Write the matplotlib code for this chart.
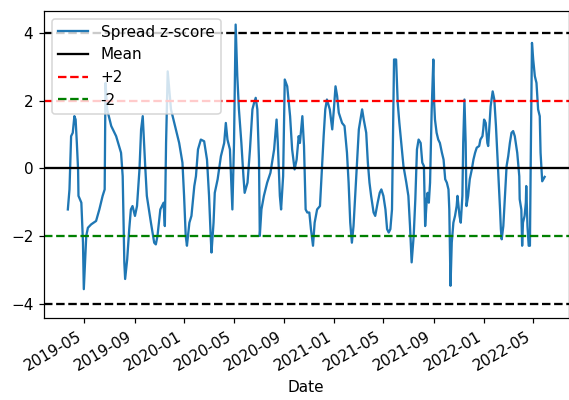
import matplotlib
matplotlib.use("Agg")
import matplotlib.pyplot as plt
import matplotlib.dates as mdates
import pandas as pd

# Observation dates, as day offsets from 2019-05-01
day_offsets = [
    -40, -36, -32, -28, -24, -21, -18, -15, -14, -7,
    -3, -1, 2, 5, 9, 17, 29, 37, 45, 50,
    52, 56, 66, 78, 90, 94, 98, 100, 105, 110,
    114, 118, 124, 129, 135, 139, 143, 145, 149, 153,
    163, 171, 175, 179, 186, 194, 197, 200, 204, 212,
    220, 232,
    240, 244, 248, 251, 257, 262, 269, 273, 278, 285,
    293, 300, 305, 309, 311, 316, 319, 326, 334, 338,
    342, 346, 350, 356, 362, 366, 370, 374, 378, 384,
    389, 392, 399, 405, 411, 415, 419, 423, 427, 429,
    433, 439, 447, 455, 464, 470, 473, 478, 481, 486,
    490, 496, 503, 508, 514, 519, 524, 527, 533, 537,
    541, 545,
    550, 554, 559, 563, 569, 576, 581, 585, 589, 593,
    600, 606, 610, 614, 618, 622, 630, 636, 642, 646,
    650, 654, 658, 662, 667, 671, 675, 679, 683, 689,
    693, 697, 701, 707, 711, 717, 722, 726, 731, 736,
    740, 744, 748, 752, 754, 757, 762, 766, 770, 776,
    780, 787, 792, 796, 800, 805, 809, 813, 817, 822,
    826, 830, 833, 837, 839, 842, 845, 849, 853,
    855, 857, 861, 865, 869, 874, 878, 882, 886, 890,
    892, 895, 898, 902, 906, 910, 912, 917, 920, 924,
    926, 929, 932, 934, 938, 942, 947, 951, 955, 959,
    965, 968, 973, 975, 977, 981, 985, 987, 990, 993,
    998, 1002, 1006, 1010, 1013, 1016, 1018, 1020, 1024, 1028,
    1032, 1036, 1040, 1044, 1048, 1052, 1058, 1063, 1064, 1068,
    1070, 1072, 1076, 1079, 1080, 1083, 1086, 1089, 1091, 1094,
    1097, 1101, 1105, 1109, 1113, 1115, 1119, 1125,
]

zscore = [
    -1.21, -0.62, 0.95, 1.05, 1.54, 1.44, 0.75, -0.03, -0.81, -1.01,
    -2.19, -3.56, -2.77, -1.99, -1.75, -1.65, -1.55, -1.21, -0.81, -0.62,
    2.52, 1.74, 1.25, 0.95, 0.46, -0.23, -2.77, -3.26, -2.68, -1.79,
    -1.21, -1.11, -1.40, -1.11, -0.03, 1.15, 1.54, 1.05, 0.07, -0.81,
    -1.60, -2.19, -2.24, -1.99, -1.21, -1.01, -1.70, 0.75, 2.86, 1.74,
    1.34, 0.75,
    0.17, -0.81, -1.99, -2.28, -1.60, -1.40, -0.52, -0.23, 0.56, 0.85,
    0.80, 0.26, -0.81, -1.99, -2.48, -1.60, -0.72, -0.32, 0.36, 0.56,
    0.75, 1.34, 0.85, 0.56, -1.21, 0.75, 4.24, 2.72, 1.74, 0.75,
    -0.23, -0.72, -0.42, 0.56, 1.74, 1.93, 2.08, 1.74, 0.26, -1.99,
    -1.21, -0.81, -0.42, -0.13, 0.56, 1.44, 0.75, -0.81, -1.21, -0.23,
    2.62, 2.42, 1.54, 0.56, -0.03, 0.26, 0.95, 0.75, 1.54, 0.66,
    -1.21, -1.30,
    -1.30, -1.79, -2.28, -1.60, -1.21, -1.11, 0.07, 0.95, 1.74, 2.03,
    1.74, 1.15, 1.74, 2.42, 2.13, 1.64, 1.34, 1.25, 0.46, -0.42,
    -1.60, -2.19, -1.70, -0.81, 0.26, 1.15, 1.44, 1.74, 1.44, 1.05,
    0.17, -0.42, -0.81, -1.30, -1.40, -1.01, -0.72, -0.62, -0.81, -1.21,
    -1.79, -1.89, -1.79, -1.21, 0.56, 3.21, 3.21, 1.93, 1.34, 0.56,
    0.07, -0.42, -0.81, -1.70, -2.77, -1.99, -0.91, 0.56, 0.85, 0.75,
    0.17, 0.07, -1.70, -0.91, -0.72, -1.01, -0.42, 1.74, 3.21,
    1.93, 1.44, 1.05, 0.85, 0.75, 0.46, 0.26, -0.32, -0.42, -0.62,
    -1.21, -3.46, -2.19, -1.60, -1.40, -1.11, -0.81, -1.40, -1.60, -0.81,
    0.75, 2.03, 0.75, -1.11, -0.81, -0.32, -0.03, 0.26, 0.46, 0.61,
    0.66, 0.85, 0.95, 1.15, 1.44, 1.34, 0.75, 0.66, 1.25, 1.83,
    2.27, 2.03, 1.25, 0.26, -0.42, -1.21, -1.79, -2.09, -1.70, -0.81,
    0.07, 0.36, 0.75, 1.05, 1.10, 0.95, 0.46, -0.23, -0.91, -1.21,
    -2.28, -1.60, -1.40, -1.01, -0.52, -1.70, -2.28, -2.28, 0.26, 3.70,
    3.21, 2.72, 2.52, 1.74, 1.54, 0.46, -0.38, -0.25,
]

mean_level = 0.0
upper_band = 2.0
lower_band = -2.0
outer_bands = [4.0, -4.0]
legend_labels = ["Spread z-score", "Mean", "+2", "-2"]

dates = pd.Timestamp("2019-05-01") + pd.to_timedelta(day_offsets, unit="D")

DPI = 110
fig = plt.figure(figsize=(569 / DPI, 400 / DPI), dpi=DPI)
ax = fig.add_axes([44 / 569, 1 - 318 / 400, (568.5 - 44) / 569, (318 - 11) / 400])

ax.plot(dates, zscore, color="#1f77b4", linewidth=1.5)
ax.axhline(mean_level, color="black")
ax.axhline(upper_band, color="red", linestyle="--")
ax.axhline(lower_band, color="green", linestyle="--")
for lvl in outer_bands:
    ax.axhline(lvl, color="black", linestyle="--")

ax.legend(legend_labels, loc="upper left")
ax.set_ylim(-4.41, 4.64)
ax.set_yticks([-4, -2, 0, 2, 4])
ax.xaxis.set_major_locator(mdates.MonthLocator(bymonth=[1, 5, 9]))
ax.xaxis.set_major_formatter(mdates.DateFormatter("%Y-%m"))
for lbl in ax.get_xticklabels():
    lbl.set_rotation(30)
    lbl.set_ha("right")
ax.set_xlabel("Date")

fig.savefig("out.png", dpi=DPI)
